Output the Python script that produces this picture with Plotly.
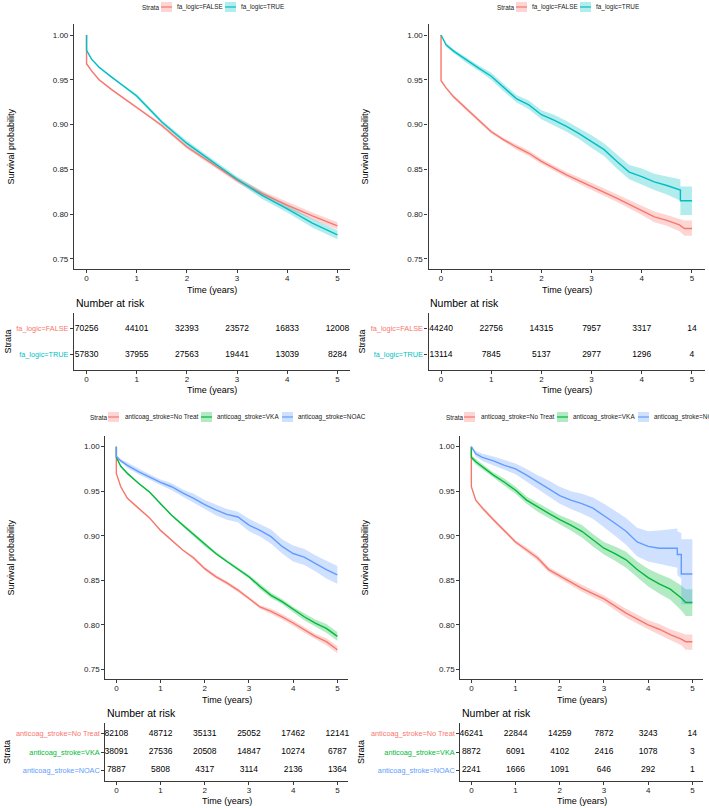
import plotly.graph_objects as go

W, H = 709, 808
FONT = "Liberation Sans, Arial, sans-serif"

# ---------------- data ----------------
YEARS = [0, 1, 2, 3, 4, 5]

FA_LABELS = ["fa_logic=FALSE", "fa_logic=TRUE"]
FA_COLORS = ["#F8766D", "#00BFC4"]
AC_LABELS = ["anticoag_stroke=No Treat", "anticoag_stroke=VKA", "anticoag_stroke=NOAC"]
AC_COLORS = ["#F8766D", "#00BA38", "#619CFF"]

# top left: fa_logic, all patients
TL_T = [0, 0, 0.1, 0.25, 0.5, 0.75, 1, 1.5, 2, 2.5, 3, 3.5, 4, 4.5, 5]
TL_FALSE_S = [1.0, 0.968, 0.960, 0.950, 0.939, 0.929, 0.920, 0.899, 0.875, 0.856, 0.838, 0.823, 0.810, 0.798, 0.787]
TL_FALSE_LO = [1.0, 0.967, 0.959, 0.949, 0.938, 0.928, 0.919, 0.897, 0.873, 0.854, 0.835, 0.820, 0.806, 0.794, 0.783]
TL_FALSE_HI = [1.0, 0.969, 0.961, 0.951, 0.940, 0.930, 0.921, 0.901, 0.877, 0.858, 0.841, 0.826, 0.814, 0.802, 0.791]
TL_TRUE_S = [1.0, 0.983, 0.973, 0.964, 0.953, 0.943, 0.932, 0.903, 0.879, 0.859, 0.839, 0.821, 0.806, 0.790, 0.777]
TL_TRUE_LO = [1.0, 0.982, 0.972, 0.963, 0.952, 0.942, 0.930, 0.901, 0.876, 0.856, 0.836, 0.817, 0.802, 0.785, 0.772]
TL_TRUE_HI = [1.0, 0.984, 0.974, 0.965, 0.954, 0.944, 0.934, 0.905, 0.882, 0.862, 0.842, 0.825, 0.810, 0.795, 0.782]

# top right: fa_logic, second cohort
TR_FALSE_T = [0, 0, 0.1, 0.25, 0.5, 0.75, 1, 1.25, 1.5, 1.75, 2, 2.5, 3, 3.5, 4, 4.25, 4.5, 4.75, 4.85, 5]
TR_FALSE_S = [1.0, 0.949, 0.941, 0.931, 0.918, 0.905, 0.892, 0.883, 0.875, 0.868, 0.859, 0.844, 0.831, 0.818, 0.804, 0.797, 0.793, 0.788, 0.784, 0.784]
TR_FALSE_LO = [1.0, 0.948, 0.940, 0.929, 0.916, 0.903, 0.890, 0.881, 0.872, 0.865, 0.856, 0.841, 0.827, 0.814, 0.799, 0.791, 0.787, 0.781, 0.776, 0.776]
TR_FALSE_HI = [1.0, 0.950, 0.942, 0.933, 0.920, 0.907, 0.894, 0.885, 0.878, 0.871, 0.862, 0.847, 0.835, 0.822, 0.809, 0.803, 0.799, 0.795, 0.793, 0.793]
TR_TRUE_T = [0, 0.1, 0.25, 0.5, 0.75, 1, 1.25, 1.5, 1.75, 2, 2.25, 2.5, 2.75, 3, 3.25, 3.5, 3.75, 4, 4.25, 4.5, 4.65, 4.77, 4.77, 5]
TR_TRUE_S = [1.0, 0.989, 0.982, 0.972, 0.963, 0.954, 0.941, 0.929, 0.922, 0.911, 0.905, 0.898, 0.890, 0.881, 0.872, 0.859, 0.847, 0.842, 0.836, 0.832, 0.829, 0.827, 0.815, 0.815]
TR_TRUE_LO = [1.0, 0.987, 0.980, 0.969, 0.960, 0.950, 0.937, 0.925, 0.917, 0.906, 0.899, 0.892, 0.884, 0.874, 0.865, 0.851, 0.839, 0.833, 0.827, 0.822, 0.818, 0.815, 0.799, 0.799]
TR_TRUE_HI = [1.0, 0.991, 0.984, 0.975, 0.966, 0.958, 0.945, 0.933, 0.927, 0.916, 0.911, 0.904, 0.896, 0.888, 0.879, 0.867, 0.855, 0.851, 0.845, 0.842, 0.840, 0.839, 0.831, 0.831]

# bottom left: anticoag_stroke, all patients
BL_T = [0, 0, 0.1, 0.25, 0.5, 0.75, 1, 1.25, 1.5, 1.75, 2, 2.25, 2.5, 2.75, 3, 3.25, 3.5, 3.75, 4, 4.25, 4.5, 4.75, 5]
BL_NT_S = [1.0, 0.970, 0.955, 0.942, 0.931, 0.920, 0.906, 0.895, 0.884, 0.875, 0.863, 0.854, 0.847, 0.839, 0.830, 0.820, 0.815, 0.809, 0.802, 0.794, 0.787, 0.781, 0.772]
BL_NT_LO = [1.0, 0.969, 0.954, 0.941, 0.930, 0.919, 0.905, 0.894, 0.883, 0.873, 0.861, 0.852, 0.845, 0.837, 0.828, 0.818, 0.812, 0.806, 0.799, 0.791, 0.784, 0.777, 0.768]
BL_NT_HI = [1.0, 0.971, 0.956, 0.943, 0.932, 0.921, 0.907, 0.896, 0.885, 0.877, 0.865, 0.856, 0.849, 0.841, 0.832, 0.822, 0.818, 0.812, 0.805, 0.797, 0.790, 0.785, 0.776]
BL_VKA_S = [1.0, 0.988, 0.978, 0.970, 0.959, 0.949, 0.936, 0.923, 0.912, 0.901, 0.890, 0.880, 0.871, 0.863, 0.854, 0.843, 0.833, 0.826, 0.817, 0.809, 0.802, 0.796, 0.787]
BL_VKA_LO = [1.0, 0.987, 0.977, 0.969, 0.958, 0.948, 0.935, 0.922, 0.910, 0.899, 0.888, 0.878, 0.869, 0.861, 0.852, 0.840, 0.830, 0.823, 0.814, 0.805, 0.798, 0.791, 0.782]
BL_VKA_HI = [1.0, 0.989, 0.979, 0.971, 0.960, 0.950, 0.937, 0.924, 0.914, 0.903, 0.892, 0.882, 0.873, 0.865, 0.856, 0.846, 0.836, 0.829, 0.820, 0.813, 0.806, 0.801, 0.792]
BL_NOAC_S = [1.0, 0.989, 0.984, 0.979, 0.972, 0.966, 0.960, 0.955, 0.948, 0.942, 0.935, 0.929, 0.924, 0.921, 0.912, 0.906, 0.899, 0.888, 0.880, 0.876, 0.869, 0.862, 0.856]
BL_NOAC_LO = [1.0, 0.987, 0.982, 0.976, 0.969, 0.963, 0.957, 0.951, 0.944, 0.937, 0.930, 0.923, 0.918, 0.915, 0.905, 0.899, 0.891, 0.880, 0.871, 0.867, 0.860, 0.852, 0.846]
BL_NOAC_HI = [1.0, 0.991, 0.986, 0.982, 0.975, 0.969, 0.963, 0.959, 0.952, 0.947, 0.940, 0.935, 0.930, 0.927, 0.919, 0.913, 0.907, 0.896, 0.889, 0.885, 0.878, 0.872, 0.866]

# bottom right: anticoag_stroke, second cohort
BR_NT_T = [0, 0, 0.1, 0.25, 0.5, 0.75, 1, 1.25, 1.5, 1.75, 2, 2.5, 3, 3.5, 4, 4.25, 4.5, 4.75, 4.85, 5]
BR_NT_S = [1.0, 0.955, 0.940, 0.931, 0.918, 0.905, 0.893, 0.884, 0.875, 0.862, 0.855, 0.841, 0.829, 0.813, 0.800, 0.795, 0.789, 0.784, 0.781, 0.781]
BR_NT_LO = [1.0, 0.954, 0.939, 0.929, 0.916, 0.903, 0.891, 0.881, 0.872, 0.859, 0.852, 0.837, 0.825, 0.808, 0.795, 0.789, 0.783, 0.777, 0.772, 0.772]
BR_NT_HI = [1.0, 0.956, 0.941, 0.933, 0.920, 0.907, 0.895, 0.887, 0.878, 0.865, 0.858, 0.845, 0.833, 0.818, 0.805, 0.801, 0.795, 0.791, 0.789, 0.789]
BR_VKA_T = [0, 0, 0.1, 0.25, 0.5, 0.75, 1, 1.25, 1.5, 1.75, 2, 2.25, 2.5, 2.75, 3, 3.25, 3.5, 3.75, 4, 4.25, 4.5, 4.75, 4.85, 5]
BR_VKA_S = [1.0, 0.988, 0.983, 0.977, 0.968, 0.960, 0.951, 0.940, 0.932, 0.925, 0.918, 0.912, 0.905, 0.895, 0.886, 0.880, 0.873, 0.862, 0.853, 0.846, 0.840, 0.830, 0.825, 0.825]
BR_VKA_LO = [1.0, 0.986, 0.980, 0.974, 0.965, 0.956, 0.947, 0.936, 0.927, 0.920, 0.913, 0.906, 0.898, 0.888, 0.879, 0.872, 0.864, 0.853, 0.843, 0.835, 0.828, 0.816, 0.810, 0.810]
BR_VKA_HI = [1.0, 0.990, 0.986, 0.980, 0.971, 0.964, 0.955, 0.944, 0.937, 0.930, 0.923, 0.918, 0.912, 0.902, 0.893, 0.888, 0.882, 0.871, 0.863, 0.857, 0.852, 0.844, 0.840, 0.840]
BR_NOAC_T = [0, 0.1, 0.25, 0.5, 0.75, 1, 1.25, 1.5, 1.75, 2, 2.25, 2.5, 2.75, 3, 3.25, 3.5, 3.75, 4, 4.25, 4.66, 4.66, 4.75, 4.75, 5]
BR_NOAC_S = [1.0, 0.992, 0.988, 0.984, 0.979, 0.975, 0.968, 0.960, 0.953, 0.945, 0.940, 0.936, 0.931, 0.923, 0.914, 0.905, 0.893, 0.888, 0.886, 0.886, 0.879, 0.879, 0.857, 0.857]
BR_NOAC_LO = [1.0, 0.989, 0.984, 0.979, 0.974, 0.969, 0.961, 0.952, 0.944, 0.936, 0.930, 0.925, 0.919, 0.910, 0.900, 0.890, 0.877, 0.871, 0.868, 0.864, 0.856, 0.852, 0.823, 0.823]
BR_NOAC_HI = [1.0, 0.995, 0.992, 0.989, 0.985, 0.981, 0.975, 0.968, 0.962, 0.955, 0.950, 0.947, 0.943, 0.936, 0.928, 0.920, 0.909, 0.905, 0.906, 0.908, 0.905, 0.903, 0.896, 0.896]

# number at risk
TL_RISK = [[70256, 44101, 32393, 23572, 16833, 12008],
           [57830, 37955, 27563, 19441, 13039, 8284]]
TR_RISK = [[44240, 22756, 14315, 7957, 3317, 14],
           [13114, 7845, 5137, 2977, 1296, 4]]
BL_RISK = [[82108, 48712, 35131, 25052, 17462, 12141],
           [38091, 27536, 20508, 14847, 10274, 6787],
           [7887, 5808, 4317, 3114, 2136, 1364]]
BR_RISK = [[46241, 22844, 14259, 7872, 3243, 14],
           [8872, 6091, 4102, 2416, 1078, 3],
           [2241, 1666, 1091, 646, 292, 1]]


def rgba(hex_color, a):
    h = hex_color.lstrip("#")
    return "rgba(%d,%d,%d,%s)" % (int(h[0:2], 16), int(h[2:4], 16), int(h[4:6], 16), a)


def dom_x(left, right):
    return [left / W, right / W]


def dom_y(top, bottom):
    return [1 - bottom / H, 1 - top / H]


def px(x):
    return x / W


def py(y):
    return 1 - y / H


def note(text, x, y, size, xanchor="center", angle=0, color="black"):
    # annotation placed in pixel coordinates of the page
    return dict(text=text, x=px(x), y=py(y), xref="paper", yref="paper", xanchor=xanchor,
                yanchor="middle", textangle=angle, showarrow=False,
                font=dict(size=size, color=color, family=FONT))


AXIS = dict(showline=True, linecolor="#3a3a3a", linewidth=1.2, ticks="outside", ticklen=3,
            tickcolor="#3a3a3a", showgrid=False, zeroline=False, mirror=False,
            tickfont=dict(size=8, color="#222", family=FONT))
XRANGE = [-0.25, 5.25]
YRANGE = [0.7388, 1.0123]

# panel layout (pixels): plot x-domain, plot y-domain, table y-domain
PANELS = [
    dict(plot=1, table=3, xd=(74, 350), pyd=(24, 269), tyd=(313, 370), labels=FA_LABELS, colors=FA_COLORS,
         curves=[(TL_T, TL_FALSE_S, TL_FALSE_LO, TL_FALSE_HI), (TL_T, TL_TRUE_S, TL_TRUE_LO, TL_TRUE_HI)],
         risk=TL_RISK),
    dict(plot=2, table=4, xd=(428.5, 704.5), pyd=(24, 269), tyd=(313, 370), labels=FA_LABELS, colors=FA_COLORS,
         curves=[(TR_FALSE_T, TR_FALSE_S, TR_FALSE_LO, TR_FALSE_HI), (TR_TRUE_T, TR_TRUE_S, TR_TRUE_LO, TR_TRUE_HI)],
         risk=TR_RISK),
    dict(plot=5, table=7, xd=(105.3, 348.4), pyd=(435.7, 679.3), tyd=(723, 781), labels=AC_LABELS, colors=AC_COLORS,
         curves=[(BL_T, BL_NT_S, BL_NT_LO, BL_NT_HI), (BL_T, BL_VKA_S, BL_VKA_LO, BL_VKA_HI),
                 (BL_T, BL_NOAC_S, BL_NOAC_LO, BL_NOAC_HI)],
         risk=BL_RISK),
    dict(plot=6, table=8, xd=(460.3, 703.4), pyd=(435.7, 679.3), tyd=(723, 781), labels=AC_LABELS, colors=AC_COLORS,
         curves=[(BR_NT_T, BR_NT_S, BR_NT_LO, BR_NT_HI), (BR_VKA_T, BR_VKA_S, BR_VKA_LO, BR_VKA_HI),
                 (BR_NOAC_T, BR_NOAC_S, BR_NOAC_LO, BR_NOAC_HI)],
         risk=BR_RISK),
]

# legend placement per panel: (y, "Strata" x, key x's, label x's)
LEGENDS = [
    (7, 140, [161, 225], [175, 239]),
    (7, 495, [516, 580], [530, 594]),
    (417, 88, [108, 201, 282], [123, 215, 296]),
    (417, 444, [464, 557, 638], [479, 571, 652]),
]


def ax_name(i):
    return ("x" if i == 1 else "x%d" % i), ("y" if i == 1 else "y%d" % i)


def lay_name(i):
    return ("xaxis" if i == 1 else "xaxis%d" % i), ("yaxis" if i == 1 else "yaxis%d" % i)


fig = go.Figure()
layout = {}
annotations = []
shapes = []

for p in PANELS:
    # --- survival curves ---
    xa, ya = ax_name(p["plot"])
    xl, yl = lay_name(p["plot"])
    for (t, s, lo, hi), col in zip(p["curves"], p["colors"]):
        fig.add_trace(go.Scatter(
            x=list(t) + list(t)[::-1], y=list(hi) + list(lo)[::-1], xaxis=xa, yaxis=ya,
            fill="toself", fillcolor=rgba(col, 0.3), line=dict(width=0), mode="lines",
            hoverinfo="skip", showlegend=False))
    for (t, s, lo, hi), col in zip(p["curves"], p["colors"]):
        fig.add_trace(go.Scatter(
            x=t, y=s, xaxis=xa, yaxis=ya, mode="lines", line=dict(color=col, width=1.4),
            showlegend=False))
    layout[xl] = dict(AXIS, domain=dom_x(*p["xd"]), range=XRANGE, tickvals=YEARS, anchor=ya,
                      ticklabelstandoff=-2)
    layout[yl] = dict(AXIS, domain=dom_y(*p["pyd"]), range=YRANGE, tickvals=[0.75, 0.8, 0.85, 0.9, 0.95, 1.0],
                      tickformat=".2f", anchor=xa)

    # --- risk table ---
    xa2, ya2 = ax_name(p["table"])
    xl2, yl2 = lay_name(p["table"])
    n = len(p["labels"])
    for k, counts in enumerate(p["risk"]):
        fig.add_trace(go.Scatter(
            x=YEARS, y=[n - k] * len(YEARS), xaxis=xa2, yaxis=ya2, mode="text",
            text=[str(c) for c in counts], textfont=dict(size=8.5, color="black", family=FONT),
            cliponaxis=False, hoverinfo="skip", showlegend=False))
    layout[xl2] = dict(AXIS, domain=dom_x(*p["xd"]), range=XRANGE, tickvals=YEARS, anchor=ya2,
                       ticklabelstandoff=-2)
    layout[yl2] = dict(AXIS, domain=dom_y(*p["tyd"]), range=[0.4, n + 0.6], anchor=xa2,
                       tickvals=[n - k for k in range(n)], tickfont=dict(size=7.3, family=FONT),
                       ticktext=['<span style="color:%s">%s</span>' % (c, lab)
                                 for lab, c in zip(p["labels"], p["colors"])])

    # --- titles ---
    cx = (p["xd"][0] + p["xd"][1]) / 2
    left_edge = 0 if p["xd"][0] < 354 else 354
    annotations.append(note("Time (years)", cx, p["pyd"][1] + 21, 9))
    annotations.append(note("Time (years)", cx, p["tyd"][1] + 20, 9))
    annotations.append(note("Survival probability", left_edge + 10, (p["pyd"][0] + p["pyd"][1]) / 2, 9, angle=-90))
    annotations.append(note("Strata", left_edge + 7, (p["tyd"][0] + p["tyd"][1]) / 2, 9, angle=-90))
    annotations.append(note("Number at risk", p["xd"][0], p["tyd"][0] - 10, 10.5, xanchor="left"))

# --- legends drawn as text + key boxes ---
for p, (ly, sx, keys, labs) in zip(PANELS, LEGENDS):
    annotations.append(note("Strata", sx, ly, 6.4, xanchor="left", color="#222"))
    for lab, col, kx, tx in zip(p["labels"], p["colors"], keys, labs):
        shapes.append(dict(type="rect", xref="paper", yref="paper", x0=px(kx), x1=px(kx + 11),
                           y0=py(ly + 5), y1=py(ly - 5), fillcolor=rgba(col, 0.3), line=dict(width=0)))
        shapes.append(dict(type="line", xref="paper", yref="paper", x0=px(kx), x1=px(kx + 11),
                           y0=py(ly), y1=py(ly), line=dict(color=col, width=1.2)))
        annotations.append(note(lab, tx, ly, 6.4, xanchor="left", color="#222"))

fig.update_layout(
    width=W, height=H, margin=dict(l=0, r=0, t=0, b=0), autosize=False,
    paper_bgcolor="white", plot_bgcolor="white", showlegend=False,
    font=dict(family=FONT), annotations=annotations, shapes=shapes, **layout)

fig.write_html("out.html", config={"displayModeBar": False},
               post_script="document.body.style.margin='0';")
